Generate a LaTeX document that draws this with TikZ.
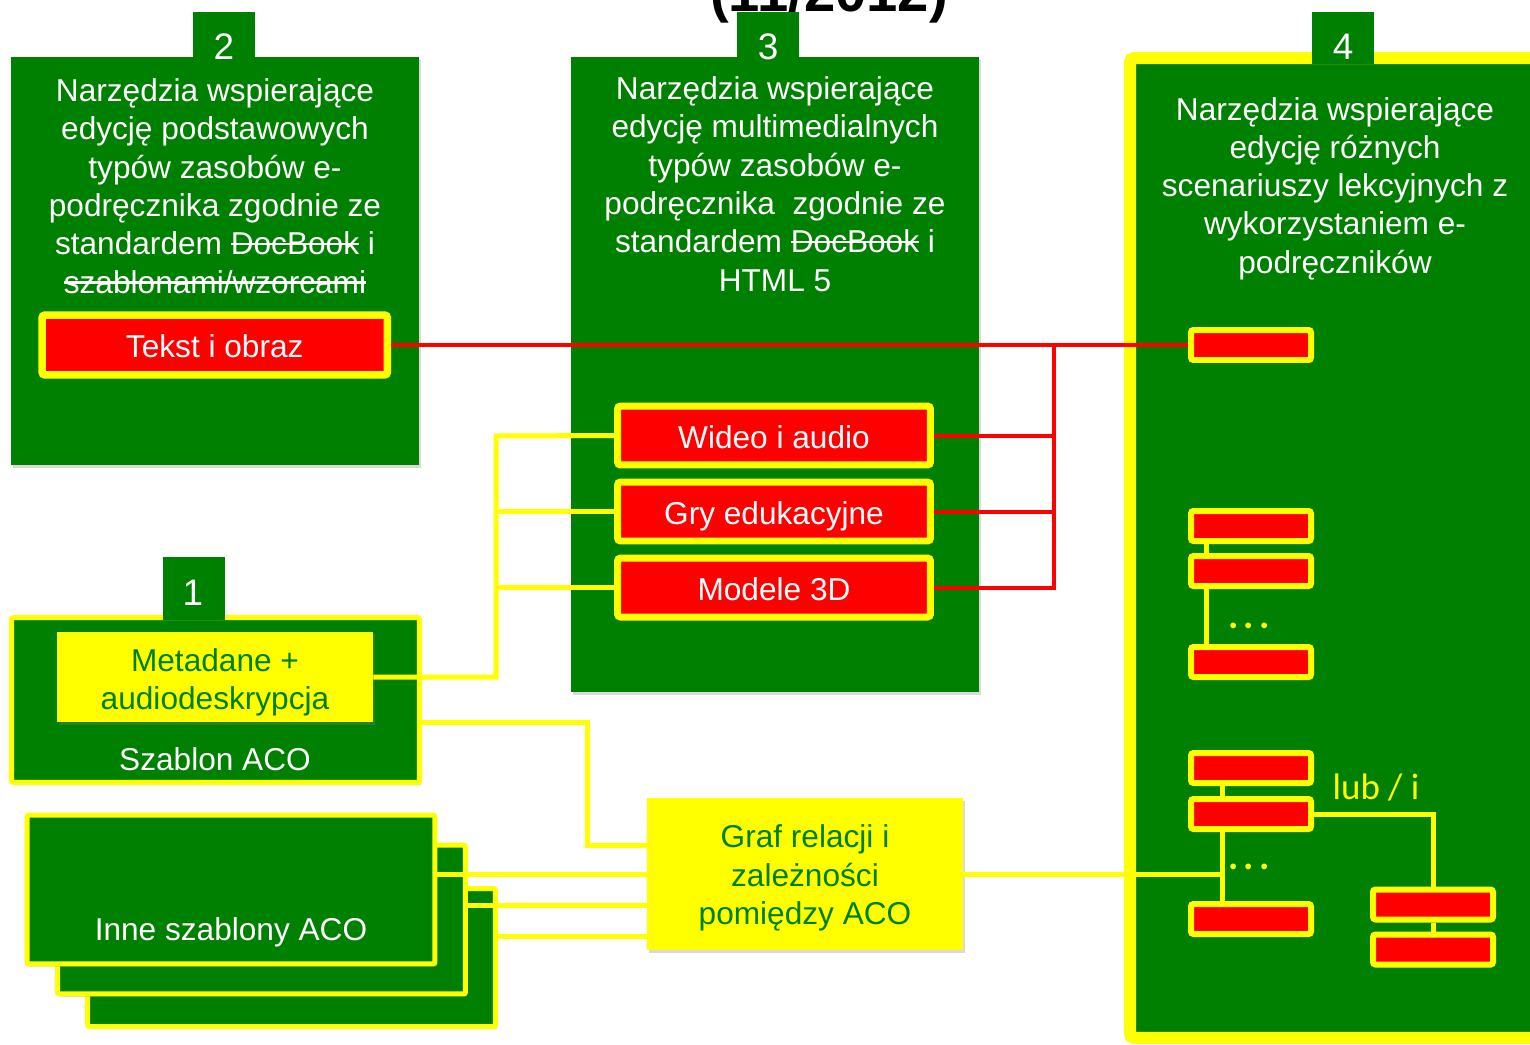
\documentclass[tikz,border=0pt]{standalone}
\usepackage{fontspec}
\setmainfont{Liberation Sans}
\newfontfamily\calibrifont{Carlito}
\usetikzlibrary{shadows,positioning}
\definecolor{pgreen}{HTML}{008000}
\definecolor{pyellow}{HTML}{FFFF00}
\definecolor{pred}{HTML}{FF0000}
\newsavebox\strikebox
\newcommand\strike[1]{\sbox\strikebox{#1}\rlap{\rule[0.3em]{\wd\strikebox}{0.07em}}\usebox\strikebox}
\begin{document}
\begin{tikzpicture}[x=0.02cm, y=-0.02cm,
	softshadow/.style={drop shadow={shadow xshift=0.04cm, shadow yshift=-0.06cm, opacity=0.3}},
	panel/.style={fill=pgreen, inner sep=0pt, softshadow},
	tab/.style={fill=pgreen, inner sep=0pt, minimum width=1.24cm},
	num/.style={text=white, inner sep=0pt, font=\fontsize{21}{25}\selectfont},
	heading/.style={text=white, align=center, inner sep=0pt, font=\fontsize{18}{21.8}\selectfont},
	redbox/.style={fill=pred, draw=pyellow, line width=0.14cm, rounded corners=0.06cm, inner sep=0pt, text height=19pt, text depth=4.5pt, text=white, font=\fontsize{18}{21.8}\selectfont, softshadow},
	slot/.style={fill=pred, draw=pyellow, line width=0.12cm, rounded corners=0.05cm, inner sep=0pt, minimum width=2.4cm, minimum height=0.6cm, softshadow},
	notebox/.style={fill=pyellow, text=pgreen, align=center, inner sep=0pt, font=\fontsize{18}{21.8}\selectfont, softshadow},
	templ/.style={fill=pgreen, draw=pyellow, line width=0.1cm, rounded corners=0.04cm, inner sep=0pt, minimum width=8.16cm, minimum height=2.98cm, softshadow},
	redwire/.style={draw=pred, line width=0.08cm},
	ywire/.style={draw=pyellow, line width=0.1cm},
	note/.style={text=pyellow, inner sep=0pt, font=\calibrifont\fontsize{21}{25}\selectfont}]
	\useasboundingbox (0,0) rectangle (1530,1044);
	\node[font=\bfseries\fontsize{32}{38}\selectfont, anchor=base, inner sep=0pt] (title) at (829,12) {(11/2012)};
	% column 2
	\node[panel, minimum width=8.16cm, minimum height=8.16cm] (box2) at (215,261) {};
	\node[tab, minimum height=0.92cm] (tab2) at (224,35) {};
	\node[num] (num2) at (224,47) {2};
	\node[heading] (head2) at (215,186) {Narzędzia wspierające\\edycję podstawowych\\typów zasobów e-\\podręcznika zgodnie ze\\standardem \strike{DocBook} i\\\strike{szablonami/wzorcami}};
	% column 3
	\node[panel, minimum width=8.16cm, minimum height=12.7cm] (box3) at (775,374.5) {};
	\node[tab, minimum height=0.92cm] (tab3) at (768,35) {};
	\node[num] (num3) at (768,47) {3};
	\node[heading] (head3) at (775,184) {Narzędzia wspierające\\edycję multimedialnych\\typów zasobów e-\\podręcznika\hspace{0.28em} zgodnie ze\\standardem \strike{DocBook} i\\HTML 5};
	% column 4
	\node[panel, draw=pyellow, line width=0.24cm, rounded corners=0.08cm, minimum width=8.3cm, minimum height=19.6cm] (box4) at (1337.5,548) {};
	\node[tab, minimum height=1.04cm] (tab4) at (1343,38) {};
	\node[num] (num4) at (1343,47) {4};
	\node[heading] (head4) at (1335,188.5) {Narzędzia wspierające\\edycję różnych\\scenariuszy lekcyjnych z\\wykorzystaniem e-\\podręczników};
	% templates
	\node[panel, draw=pyellow, line width=0.1cm, rounded corners=0.04cm, minimum width=8.16cm, minimum height=3.3cm] (szab) at (215.5,700) {};
	\node[tab, minimum height=1.26cm] (tab1) at (194,588.5) {};
	\node[num] (num1) at (193,593) {1};
	\node[notebox, minimum width=6.32cm, minimum height=1.8cm] (meta) at (215,677) {\rule{0pt}{18.8pt}Metadane +\\audiodeskrypcja};
	\node[heading] (szablabel) at (215,759) {Szablon ACO};
	\node[templ, minimum height=2.76cm] (inne3) at (291.5,957.5) {};
	\node[templ] (inne2) at (261.5,919.5) {};
	\node[templ] (inne1) at (231,889.5) {};
	\node[heading] (innelabel) at (231,932) {Inne szablony ACO};
	\node[notebox, minimum width=6.32cm, minimum height=3.04cm] (graf) at (805,874) {\rule{0pt}{17.5pt}Graf relacji i\\zależności\\pomiędzy ACO};
	% resources
	\node[redbox, line width=0.15cm, minimum width=6.91cm, minimum height=1.2cm] (tekst) at (214.75,345) {Tekst i obraz};
	\node[redbox, minimum width=6.26cm, minimum height=1.18cm] (wideo) at (774,435.5) {Wideo i audio};
	\node[redbox, minimum width=6.26cm, minimum height=1.18cm] (gry) at (774,511.5) {Gry edukacyjne};
	\node[redbox, minimum width=6.26cm, minimum height=1.18cm] (modele) at (774,587.5) {Modele 3D};
	\node[slot] (slotA) at (1251,345) {};
	\node[slot] (slotB) at (1251,526) {};
	\node[slot] (slotC) at (1251,571) {};
	\node[slot] (slotD) at (1251,662) {};
	\node[slot] (slotE) at (1251,768) {};
	\node[slot] (slotF) at (1251,814) {};
	\node[slot] (slotG) at (1251,919) {};
	\node[slot] (slotH) at (1433,904.5) {};
	\node[slot] (slotI) at (1433,949.5) {};
	\node[note, font=\calibrifont\bfseries\fontsize{22}{26}\selectfont] (dots1) at (1249,626) {.\kern3pt.\kern3pt.};
	\node[note, font=\calibrifont\bfseries\fontsize{22}{26}\selectfont] (dots2) at (1249,867) {.\kern3pt.\kern3pt.};
	\node[note] (lubi) at (1376,787) {lub / i};
	% wires
	\coordinate (redbus) at (1054,345);
	\coordinate (ybus) at (496,436);
	\coordinate (gbend) at (587,845);
	\coordinate (slink) at (1206,0);
	\coordinate (glink) at (1222,0);
	\draw[redwire] (tekst.east) -- (slotA.west);
	\draw[redwire] (redbus) |- (modele.east);
	\draw[redwire] (wideo.east) -- (wideo.east -| redbus);
	\draw[redwire] (gry.east) -- (gry.east -| redbus);
	\draw[ywire] (meta.east) -| (ybus) -- (wideo.west);
	\draw[ywire] (gry.west -| ybus) -- (gry.west);
	\draw[ywire] (modele.west -| ybus) -- (modele.west);
	\draw[ywire] (szab.east |- 0,722) -| (gbend) -- (gbend -| graf.west);
	\draw[ywire] (inne1.east |- 0,874) -- (graf.west |- 0,874);
	\draw[ywire] (inne2.east |- 0,905) -- (graf.west |- 0,905);
	\draw[ywire] (inne3.east |- 0,936) -- (graf.west |- 0,936);
	\draw[ywire] (graf.east) -- (graf.east -| glink);
	\draw[ywire] (slotB.south -| slink) -- (slotC.north -| slink);
	\draw[ywire] (slotC.south -| slink) -- (slotD.north -| slink);
	\draw[ywire] (slotE.south -| glink) -- (slotF.north -| glink);
	\draw[ywire] (slotF.south -| glink) -- (slotG.north -| glink);
	\draw[ywire] (slotF.east) -| (slotH.north);
	\draw[ywire] (slotH.south) -- (slotI.north);
\end{tikzpicture}
\end{document}
